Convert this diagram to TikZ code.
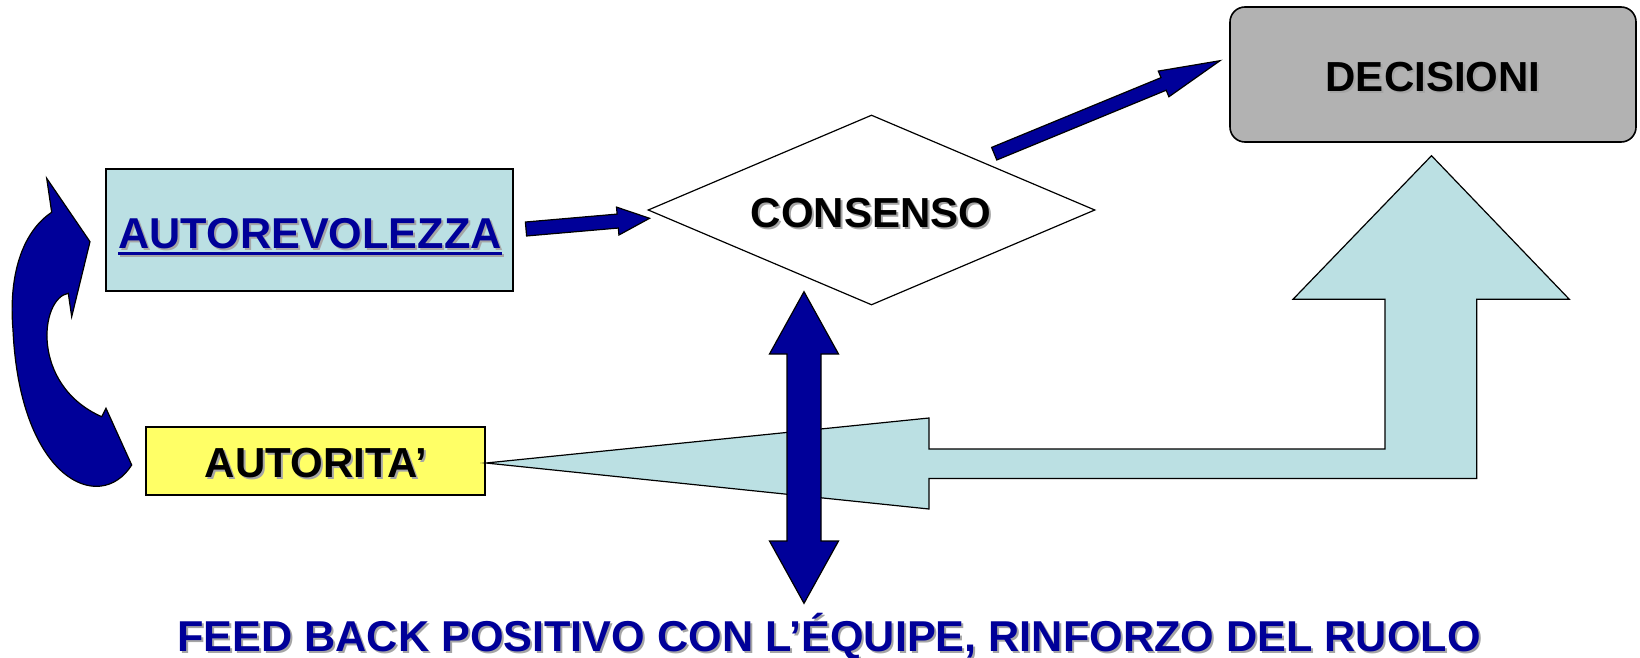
\documentclass[tikz,border=0pt]{standalone}
\usepackage{fontspec}
\setmainfont{Liberation Sans}
\usetikzlibrary{calc,shapes.geometric}
\definecolor{navy}{RGB}{0,0,153}
\definecolor{lblue}{RGB}{187,224,227}
\definecolor{lyellow}{RGB}{255,255,102}
\definecolor{dgray}{RGB}{178,178,178}
\definecolor{shgray}{RGB}{165,165,165}
\newcommand\shtext[2]{\rlap{\kern2pt\raisebox{-2pt}{\textcolor{shgray}{#2}}}\textcolor{#1}{#2}}
\newcommand\ulwide[1]{\setbox0\hbox{#1}\rlap{\raisebox{-7pt}{\rule{\wd0}{3pt}}}\box0}
\newcommand\blockarrow[5]{%
  \coordinate (ba-h) at ($(#2)!#5pt!(#1)$);
  \draw[navyarrow] ($(#1)!#3pt!90:(#2)$) -- ($(ba-h)!#3pt!-90:(#1)$) -- ($(ba-h)!#4pt!-90:(#1)$) -- (#2) -- ($(ba-h)!#4pt!90:(#1)$) -- ($(ba-h)!#3pt!90:(#1)$) -- ($(#1)!#3pt!-90:(#2)$) -- cycle;}
\begin{document}
\begin{tikzpicture}[x=1pt,y=-1pt,
  lbl/.style={font=\fontsize{42}{42}\selectfont\bfseries, inner sep=0pt, anchor=base},
  biglbl/.style={lbl, font=\fontsize{43.2}{43.2}\selectfont\bfseries},
  navyarrow/.style={fill=navy, draw=black, line width=1.2pt, line join=miter},
  bluearrow/.style={fill=lblue, draw=black, line width=1.2pt, line join=miter},
  boxstyle/.style={draw=black, line width=1.6pt, inner sep=0pt, rectangle}]
\useasboundingbox (0,0) rectangle (1640,658);

% boxes
\node[boxstyle, fill=lblue, minimum width=407pt, minimum height=122pt] (autorev) at (309.5,230) {};
\node[boxstyle, fill=lyellow, minimum width=339pt, minimum height=68pt] (autorita) at (315.5,461) {};
\node[boxstyle, fill=dgray, rounded corners=15pt, minimum width=406pt, minimum height=135pt] (dec) at (1433,74.5) {};
\node[draw=black, line width=1.2pt, fill=white, shape=diamond, inner sep=0pt, minimum width=447pt, minimum height=190pt] (cons) at (871.5,210) {};

% big light blue arrow (decisioni -> autorita)
\coordinate (tipA) at (486,463);
\draw[bluearrow] (tipA) -- (929,418) -- (929,449) -- (1385,449) -- (1385,299.3) -- (1293,299.3) -- (1431.5,155.7) -- (1569.3,299.3) -- (1476.7,299.3) -- (1476.7,478.5) -- (929,478.5) -- (929,509) -- cycle;

% vertical double arrow
\coordinate (dtop) at (804,291.7);
\coordinate (dbot) at (804,603.3);
\draw[navyarrow] (dtop) -- (838.5,354) -- (821,354) -- (821,541) -- (838.5,541) -- (dbot) -- (769.5,541) -- (787,541) -- (787,354) -- (769.5,354) -- cycle;

% straight arrows
\coordinate (a1s) at (526,229);
\coordinate (a1e) at (649.6,218.3);
\blockarrow{a1s}{a1e}{7}{14}{32}
\coordinate (a2s) at (994.2,153.7);
\coordinate (a2e) at (1220,60.7);
\blockarrow{a2s}{a2e}{6.8}{13.9}{61}

% curved arrow (autorita -> autorevolezza)
\draw[navyarrow] (51.7,212.3) -- (46.7,178.3) -- (90,241.7) -- (71.7,316.7) -- (68.3,293.3)
  .. controls (40,298) and (30,385) .. (101.7,416.7) -- (106,408.3) -- (131.7,465)
  .. controls (100,515) and (20,480) .. (13,330)
  .. controls (8,270) and (25,230) .. (51.7,212.3) -- cycle;

% texts
\node[biglbl] (t-autorev) at (310,248) {\shtext{navy}{\ulwide{AUTOREVOLEZZA}}};
\node[lbl] (t-cons) at (871,227.3) {\shtext{black}{CONSENSO}};
\node[lbl] (t-dec) at (1433,91.5) {\shtext{black}{DECISIONI}};
\node[lbl] (t-aut) at (316,477) {\shtext{black}{AUTORITA’}};
\node[biglbl] (t-feed) at (829,651) {\shtext{navy}{FEED BACK POSITIVO CON L’ÉQUIPE, RINFORZO DEL RUOLO}};
\end{tikzpicture}
\end{document}
